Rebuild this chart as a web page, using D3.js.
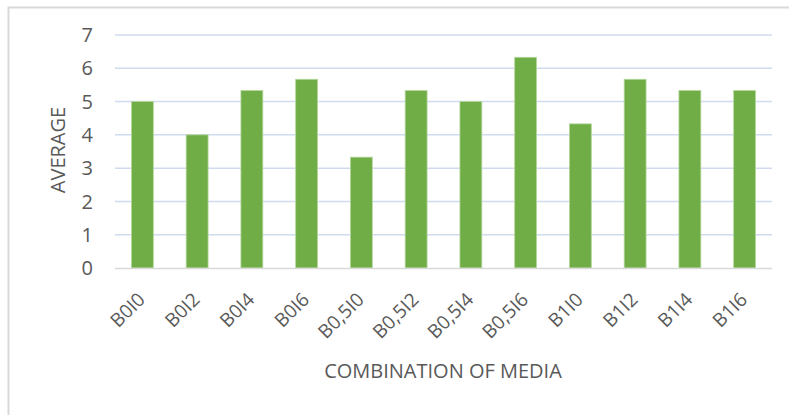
<!DOCTYPE html>
<html>
<head>
<meta charset="utf-8">
<script src="https://cdn.jsdelivr.net/npm/d3@7"></script>
<style>
  body { margin: 0; background: #fff; }
  text { font-family: "Open Sans", "Liberation Sans", sans-serif; fill: #595959; }
</style>
</head>
<body>
<div id="chart"></div>
<script>
var categories = ["B0I0", "B0I2", "B0I4", "B0I6", "B0,5I0", "B0,5I2", "B0,5I4", "B0,5I6", "B1I0", "B1I2", "B1I4", "B1I6"];
var averages = [5, 4, 5.33, 5.67, 3.33, 5.33, 5, 6.33, 4.33, 5.67, 5.33, 5.33];
var yTicks = [0, 1, 2, 3, 4, 5, 6, 7];

var width = 789, height = 415;
var plotLeft = 115, plotRight = 772, plotTop = 35, plotBottom = 268;

var svg = d3.select("#chart").append("svg")
  .attr("width", width)
  .attr("height", height);

// chart frame
svg.append("path")
  .attr("d", "M8.5," + height + " V7.5 H" + width)
  .attr("fill", "none")
  .attr("stroke", "#d9d9d9")
  .attr("stroke-width", 2);

var x = d3.scaleBand()
  .domain(categories)
  .range([plotLeft, plotRight])
  .paddingInner(0.6)
  .paddingOuter(0.3);

var y = d3.scaleLinear()
  .domain([0, 7])
  .range([plotBottom, plotTop]);

// gridlines
svg.append("g").selectAll("line")
  .data(yTicks.filter(function(d) { return d > 0; }))
  .enter().append("line")
    .attr("x1", plotLeft)
    .attr("x2", plotRight)
    .attr("y1", function(d) { return y(d); })
    .attr("y2", function(d) { return y(d); })
    .attr("stroke", "#d0dbef")
    .attr("stroke-width", 1.5);

// y labels
svg.append("g").selectAll("text")
  .data(yTicks)
  .enter().append("text")
    .attr("x", 93)
    .attr("y", function(d) { return y(d); })
    .attr("dy", "0.36em")
    .attr("text-anchor", "end")
    .style("font-size", "20px")
    .text(function(d) { return d; });

// bars
svg.append("g").selectAll("rect")
  .data(averages)
  .enter().append("rect")
    .attr("x", function(d, i) { return x(categories[i]); })
    .attr("y", function(d) { return y(d); })
    .attr("width", x.bandwidth())
    .attr("height", function(d) { return y(0) - y(d); })
    .attr("fill", "#70ad47")
    .attr("stroke", "#b4d89c")
    .attr("stroke-width", 0.8);

// baseline
svg.append("line")
  .attr("x1", plotLeft).attr("x2", plotRight)
  .attr("y1", plotBottom + 0.5).attr("y2", plotBottom + 0.5)
  .attr("stroke", "#d9d9d9")
  .attr("stroke-width", 1.5);

// x labels
svg.append("g").selectAll("text")
  .data(categories)
  .enter().append("text")
    .attr("transform", function(d) {
      return "translate(" + (x(d) + x.bandwidth() / 2 - 1) + "," + (plotBottom + 28) + ") rotate(-45)";
    })
    .attr("text-anchor", "end")
    .attr("dy", "0.35em")
    .style("font-size", "19px")
    .text(function(d) { return d; });

// axis titles
svg.append("text")
  .attr("x", 443)
  .attr("y", 378)
  .attr("text-anchor", "middle")
  .style("font-size", "20px")
  .text("COMBINATION OF MEDIA");

svg.append("text")
  .attr("transform", "translate(65,150) rotate(-90)")
  .attr("text-anchor", "middle")
  .style("font-size", "20px")
  .text("AVERAGE");
</script>
</body>
</html>
